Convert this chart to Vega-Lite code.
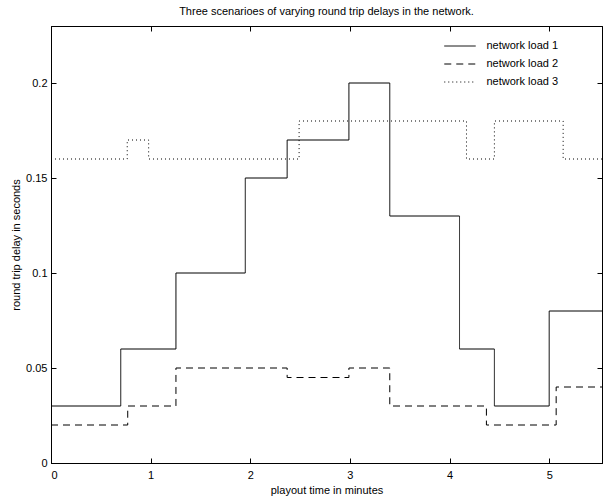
{
  "$schema": "https://vega.github.io/schema/vega-lite/v6.json",
  "width": 551,
  "height": 437,
  "autosize": "none",
  "padding": {"left": 51, "top": 26, "right": 1, "bottom": 39},
  "background": "white",
  "title": {"text": "Three scenarioes of varying round trip delays in the network.", "font": "Liberation Sans", "fontSize": 11, "fontWeight": "normal", "color": "black", "anchor": "middle", "offset": 9},
  "config": {
    "view": {"stroke": "black", "strokeWidth": 1},
    "axis": {"domainColor": "black", "tickColor": "black", "labelColor": "black", "titleColor": "black", "labelFont": "Liberation Sans", "titleFont": "Liberation Sans", "labelFontSize": 11, "titleFontSize": 11, "titleFontWeight": "normal", "grid": false, "tickSize": -5, "tickWidth": 1, "domainWidth": 1},
    "legend": {"labelFont": "Liberation Sans", "labelFontSize": 11, "labelColor": "black"}
  },
  "data": {"values": [
    {"series": "network load 1", "t": 0, "d": 0.03},
    {"series": "network load 1", "t": 0.70, "d": 0.06},
    {"series": "network load 1", "t": 1.254, "d": 0.10},
    {"series": "network load 1", "t": 1.95, "d": 0.15},
    {"series": "network load 1", "t": 2.37, "d": 0.17},
    {"series": "network load 1", "t": 2.99, "d": 0.20},
    {"series": "network load 1", "t": 3.40, "d": 0.13},
    {"series": "network load 1", "t": 4.10, "d": 0.06},
    {"series": "network load 1", "t": 4.45, "d": 0.03},
    {"series": "network load 1", "t": 5.00, "d": 0.08},
    {"series": "network load 1", "t": 5.53, "d": 0.08},
    {"series": "network load 2", "t": 0, "d": 0.02},
    {"series": "network load 2", "t": 0.77, "d": 0.03},
    {"series": "network load 2", "t": 1.254, "d": 0.05},
    {"series": "network load 2", "t": 2.37, "d": 0.045},
    {"series": "network load 2", "t": 2.99, "d": 0.05},
    {"series": "network load 2", "t": 3.40, "d": 0.03},
    {"series": "network load 2", "t": 4.37, "d": 0.02},
    {"series": "network load 2", "t": 5.07, "d": 0.04},
    {"series": "network load 2", "t": 5.53, "d": 0.04},
    {"series": "network load 3", "t": 0, "d": 0.16},
    {"series": "network load 3", "t": 0.765, "d": 0.17},
    {"series": "network load 3", "t": 0.98, "d": 0.16},
    {"series": "network load 3", "t": 2.49, "d": 0.18},
    {"series": "network load 3", "t": 4.17, "d": 0.16},
    {"series": "network load 3", "t": 4.45, "d": 0.18},
    {"series": "network load 3", "t": 5.14, "d": 0.16},
    {"series": "network load 3", "t": 5.53, "d": 0.16}
  ]},
  "layer": [
    {
      "mark": {"type": "line", "interpolate": "step-after", "color": "black", "strokeWidth": 1, "clip": true},
      "encoding": {
        "x": {"field": "t", "type": "quantitative", "scale": {"domain": [0, 5.53], "nice": false, "zero": false},
              "axis": {"orient": "bottom", "title": "playout time in minutes", "values": [0, 1, 2, 3, 4, 5], "labelPadding": 11, "titlePadding": 4}},
        "y": {"field": "d", "type": "quantitative", "scale": {"domain": [0, 0.23], "nice": false, "zero": true},
              "axis": {"orient": "left", "title": "round trip delay in seconds", "values": [0, 0.05, 0.1, 0.15, 0.2], "format": "~g", "labelPadding": 9, "titlePadding": 4}},
        "strokeDash": {"field": "series", "type": "nominal",
          "scale": {"domain": ["network load 1", "network load 2", "network load 3"], "range": [[1, 0], [7, 5], [1, 3]]},
          "legend": {"title": null, "orient": "none", "legendX": 403, "legendY": 14, "symbolType": "M-3,0H3", "symbolSize": 110, "symbolStrokeColor": "black", "symbolStrokeWidth": 1, "symbolFillColor": "transparent", "labelOffset": 20.5, "rowPadding": 7, "padding": 0}}
      }
    },
    {
      "mark": {"type": "line", "opacity": 0},
      "encoding": {
        "x": {"field": "t", "type": "quantitative", "scale": {"domain": [0, 5.53], "nice": false, "zero": false},
              "axis": {"orient": "top", "title": null, "labels": false, "values": [0, 1, 2, 3, 4, 5]}},
        "y": {"field": "d", "type": "quantitative", "scale": {"domain": [0, 0.23], "nice": false, "zero": true},
              "axis": {"orient": "right", "title": null, "labels": false, "values": [0, 0.05, 0.1, 0.15, 0.2]}}
      }
    }
  ],
  "resolve": {"axis": {"x": "independent", "y": "independent"}}
}
